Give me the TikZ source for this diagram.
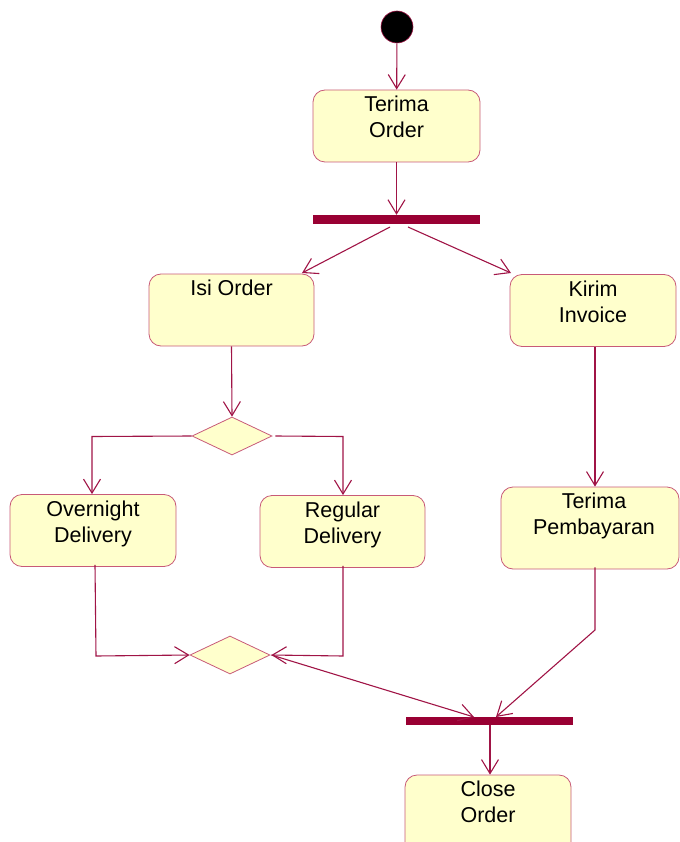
\documentclass[tikz,border=0pt]{standalone}
\usepackage{fontspec}
\setmainfont{Liberation Sans}
\usetikzlibrary{arrows.meta,shapes.geometric}
\definecolor{lnc}{RGB}{160,20,70}
\definecolor{barc}{RGB}{153,0,51}
\definecolor{boxd}{RGB}{200,90,120}
\definecolor{boxf}{RGB}{255,255,204}
\tikzset{
  actbox/.style={draw=boxd, fill=boxf, line width=0.8pt, rounded corners=12pt, minimum width=#1, minimum height=72pt, inner sep=0pt},
  acttext/.style={anchor=north, align=center, inner sep=0pt, font=\fontsize{21.5}{26}\selectfont},
  syncbar/.style={fill=barc, draw=none, minimum width=167pt, minimum height=9pt, inner sep=0pt},
  decis/.style={diamond, draw=boxd, fill=boxf, line width=0.8pt, minimum width=80pt, minimum height=38pt, inner sep=0pt, aspect=2.1},
  flow/.style={draw=lnc, line width=1.1pt, -{Straight Barb[length=14pt,width=17pt,line width=1.1pt]}},
}
\begin{document}
\begin{tikzpicture}[x=1pt,y=-1pt]
\useasboundingbox (0,0) rectangle (679,842);
% start
\node[circle, fill=black, draw=lnc, line width=0.6pt, minimum size=32pt, inner sep=0pt] (start) at (397,27) {};
% actions
\node[actbox=167pt] (to) at (396.5,126) {};
\node[acttext] (tot) at (396.5,96) {Terima\\Order};
\node[syncbar] (fork) at (396.5,219.5) {};
\node[actbox=165pt] (io) at (231.5,310) {};
\node[acttext] (iot) at (231.5,280) {Isi Order};
\node[actbox=166pt] (ki) at (593,310.5) {};
\node[acttext] (kit) at (593,281) {Kirim\\Invoice};
\node[decis] (d1) at (232,436) {};
\node[actbox=166pt] (od) at (93,530.5) {};
\node[acttext] (odt) at (93,500.5) {Overnight\\Delivery};
\node[actbox=165pt] (rd) at (342.5,531.5) {};
\node[acttext] (rdt) at (342.5,502) {Regular\\Delivery};
\node[actbox=178pt, minimum height=82pt] (tp) at (590,528) {};
\node[acttext] (tpt) at (594,493) {Terima\\Pembayaran};
\node[decis] (d2) at (230,655) {};
\node[syncbar, minimum height=8pt] (join) at (489,721) {};
\node[actbox=166pt, minimum height=80pt] (co) at (488,815) {};
\node[acttext] (cot) at (488,781) {Close\\Order};
% connectors
\coordinate (fl) at (390,227);
\coordinate (fr) at (408,227);
\draw[flow] (start) -- (to);
\draw[flow] (to) -- (fork);
\draw[flow] (fl) -- (302,273);
\draw[flow] (fr) -- (511,273);
\draw[flow] (io.south) -- (d1.north);
\draw[flow] (d1.west) -- (92,436.5) -- (od.north -| 92,0);
\draw[flow] ([xshift=3pt]d1.east) -- (343,436.5) -- (rd.north -| 343,0);
\draw[flow] (ki.south -| 595,0) -- (tp.north -| 595,0);
\draw[flow] ([yshift=2pt]od.south -| 95,0) -- (96,656) -- (d2.west);
\draw[flow] ([yshift=2pt]rd.south -| 343,0) -- (343,656) -- ([xshift=1pt]d2.east);
\draw[flow] ([xshift=1pt]d2.east) -- (474,717);
\draw[flow] ([yshift=2pt]tp.south -| 595,0) -- (595,630) -- (496,717);
\draw[flow] (join.south -| 490,0) -- (co.north -| 490,0);
\end{tikzpicture}
\end{document}
